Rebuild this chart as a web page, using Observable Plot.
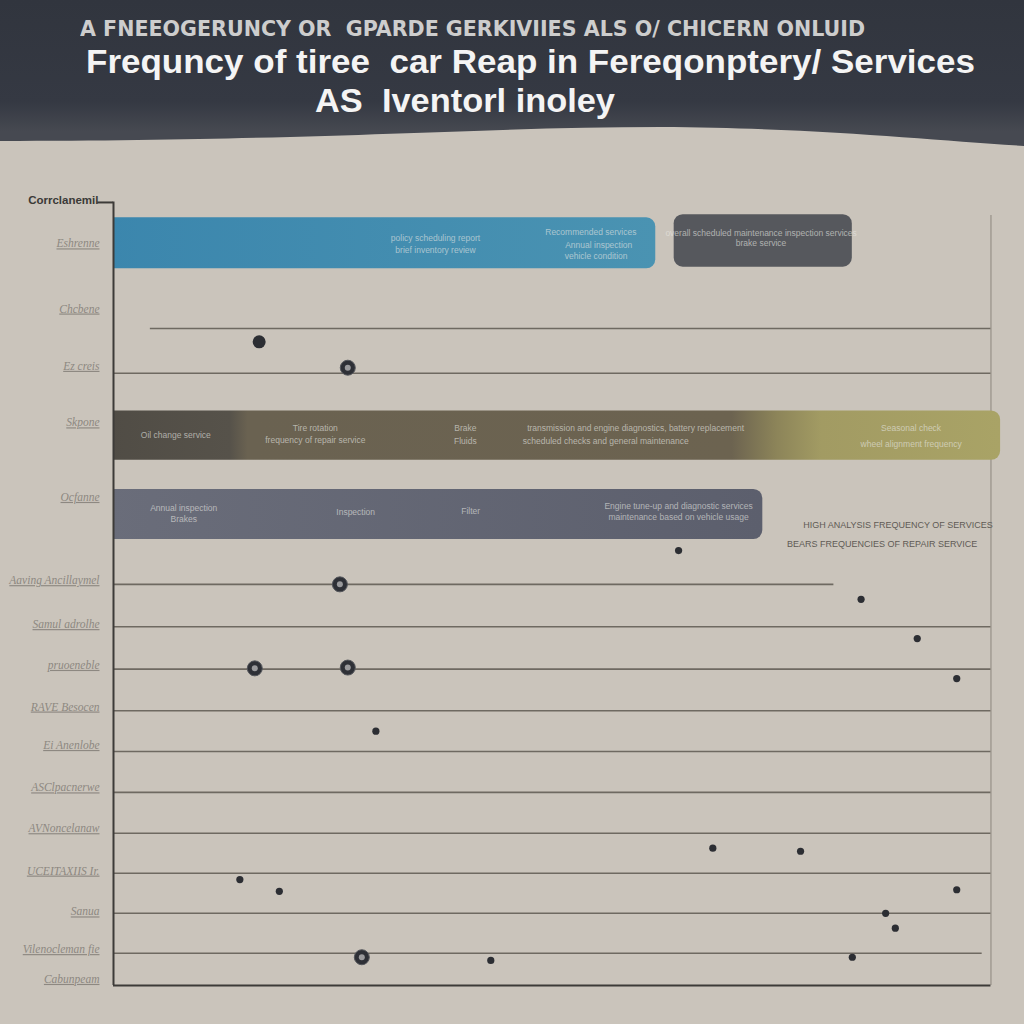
<!DOCTYPE html>
<html>
<head>
<meta charset="utf-8">
<script src="https://cdn.jsdelivr.net/npm/d3@7"></script>
<script src="https://cdn.jsdelivr.net/npm/@observablehq/plot@0.6"></script>
<style>
  html, body { margin: 0; padding: 0; width: 1024px; height: 1024px; overflow: hidden; background: #cac4bb; }
  #header { position: absolute; left: 0; top: 0; width: 1024px; height: 160px; }
  .t { position: absolute; white-space: nowrap; transform-origin: 0 0; }
  #t1 { top: 17px; left: 80px; font-size: 21px; color: #cdcdcd; font-family: "DejaVu Sans Condensed", "Liberation Sans Narrow", sans-serif; font-weight: bold; }
  #t2 { top: 42px; left: 86px; font-size: 34px; line-height: 38px; color: #f4f4f4; font-weight: bold; font-family: "Liberation Sans", Arial, sans-serif; }
  #t3 { top: 81px; left: 315px; font-size: 34px; line-height: 38px; color: #f4f4f4; font-weight: bold; font-family: "Liberation Sans", Arial, sans-serif; }
  #chart { position: absolute; left: 0; top: 0; }
  #chart g[aria-label="y-axis tick label"] text { text-decoration: underline; font-style: italic; }
</style>
</head>
<body>
<div id="header">
  <svg width="1024" height="160">
    <defs>
      <linearGradient id="hdr" x1="0" y1="0" x2="0" y2="1">
        <stop offset="0" stop-color="#31353e"/>
        <stop offset="0.7" stop-color="#353943"/>
        <stop offset="0.9" stop-color="#464951"/>
      </linearGradient>
    </defs>
    <path d="M0,0 H1024 V146 C930,140 820,128 660,127 C480,127 320,141 0,141 Z" fill="url(#hdr)"/>
  </svg>
</div>
<div class="t" id="t1" data-w="785">A FNEEOGERUNCY OR&nbsp; GPARDE GERKIVIIES ALS O/ CHICERN ONLUID</div>
<div class="t" id="t2" data-w="889">Frequncy of tiree&nbsp; car Reap in Fereqonptery/ Services</div>
<div class="t" id="t3" data-w="300">AS&nbsp; Iventorl inoley</div>
<div id="chart"></div>
<script>
// ---- data ----
const rowLabels = ["Eshrenne", "Chcbene", "Ez creis", "Skpone", "Ocfanne", "Aaving Ancillaymel", "Samul adrolhe", "pruoeneble", "RAVE Besocen", "Ei Anenlobe", "ASClpacnerwe", "AVNoncelanaw", "UCEITAXIIS Ir.", "Sanua", "Vilenocleman fie", "Cabunpeam"];
const rowPos = [5.5, 13.8, 21.1, 28.3, 37.8, 48.4, 54.0, 59.2, 64.5, 69.4, 74.8, 80.0, 85.4, 90.6, 95.4, 99.2];
const axisTitle = "Corrclanemil";

const barName = ["blue", "darkgrey", "olive", "greyblue"];
const barStart = [-1, 63.9, -1, -1];
const barEnd = [61.8, 84.2, 101.1, 74.0];
const barTop = [2.2, 1.8, 26.8, 36.8];
const barBottom = [8.7, 8.5, 33.1, 43.2];

const gridY = [16.3, 22.0, 48.9, 54.3, 59.7, 65.0, 70.2, 75.4, 80.6, 85.7, 90.8, 95.9];
const gridStart = [4.2, 0, 0, 0, 0, 0, 0, 0, 0, 0, 0, 0];
const gridEnd = [100, 100, 82.1, 100, 100, 100, 100, 100, 100, 100, 100, 99];

const noteText = ["policy scheduling report", "brief inventory review", "Recommended services", "Annual inspection", "vehicle condition",
  "overall scheduled maintenance inspection services", "brake service",
  "Oil change service", "Tire rotation", "frequency of repair service", "Brake", "Fluids",
  "transmission and engine diagnostics, battery replacement", "scheduled checks and general maintenance",
  "Seasonal check", "wheel alignment frequency",
  "Annual inspection", "Brakes", "Inspection", "Filter",
  "Engine tune-up and diagnostic services", "maintenance based on vehicle usage"];
const noteX = [36.7, 36.7, 54.4, 55.3, 55.0, 73.8, 73.8, 7.1, 23.0, 23.0, 40.1, 40.1, 59.5, 56.1, 90.9, 90.9, 8.0, 8.0, 27.6, 40.7, 64.4, 64.4];
const noteY = [4.8, 6.4, 4.1, 5.7, 7.1, 4.2, 5.5, 29.9, 29.0, 30.6, 29.0, 30.7, 29.0, 30.7, 29.0, 31.1, 39.2, 40.6, 39.7, 39.6, 38.9, 40.4];

const sideText = ["HIGH ANALYSIS FREQUENCY OF SERVICES", "BEARS FREQUENCIES OF REPAIR SERVICE"];
const sideX = [89.4, 87.6];
const sideY = [41.3, 43.8];

const dotKind = ["ring", "ring", "ring", "ring", "ring", "solid",
  "small", "small", "small", "small", "small", "small", "small", "small", "small", "small", "small", "small", "small", "small"];
const dotX = [26.7, 25.8, 16.1, 26.7, 28.3, 16.6,
  85.2, 91.6, 96.1, 29.9, 68.3, 78.3, 18.9, 14.4, 96.1, 88.0, 89.1, 84.2, 64.4, 43.0];
const dotY = [21.3, 48.9, 59.6, 59.5, 96.4, 18.0,
  50.8, 55.8, 60.9, 67.6, 82.5, 82.9, 88.0, 86.5, 87.8, 90.8, 92.7, 96.4, 44.6, 96.8];

// ---- tables ----
const bars = barName.map((n, i) => ({name: n, x1: barStart[i], x2: barEnd[i], y1: barTop[i], y2: barBottom[i]}));
const grid = gridY.map((y, i) => ({y, x1: gridStart[i], x2: gridEnd[i]}));
const notes = noteText.map((t, i) => ({t, x: noteX[i], y: noteY[i]}));
const sides = sideText.map((t, i) => ({t, x: sideX[i], y: sideY[i]}));
const dots = dotKind.map((k, i) => ({k, x: dotX[i], y: dotY[i]}));
const labelAt = new Map(rowPos.map((p, i) => [p, rowLabels[i]]));
const fills = {blue: "url(#gBlue)", darkgrey: "#56585d", olive: "url(#gOlive)", greyblue: "url(#gGreyBlue)"};

const chart = Plot.plot({
  width: 1024,
  height: 1024,
  marginTop: 200,
  marginBottom: 39,
  marginLeft: 113,
  marginRight: 16,
  x: {domain: [0, 102], axis: null},
  y: {domain: [0, 100], reverse: true, axis: null},
  style: {background: "transparent", fontFamily: "Liberation Serif, serif"},
  marks: [
    Plot.ruleX([100], {y1: 1.9, y2: 100, stroke: "#a19b93", strokeWidth: 1.5}),
    Plot.ruleY(grid, {y: "y", x1: "x1", x2: "x2", stroke: "#6e6961", strokeWidth: 1.6}),
    Plot.rect(bars, {x1: "x1", x2: "x2", y1: "y1", y2: "y2", fill: d => fills[d.name], rx: 9, clip: true}),
    Plot.text(notes, {x: "x", y: "y", text: "t", fill: "rgba(232,232,228,0.62)", fontSize: 8.5, fontFamily: "Liberation Sans Narrow, Liberation Sans, sans-serif"}),
    Plot.text(sides, {x: "x", y: "y", text: "t", fill: "#5f5b55", fontSize: 9, fontFamily: "Liberation Sans Narrow, Liberation Sans, sans-serif", textDecoration: "underline"}),
    Plot.dot(dots.filter(d => d.k === "ring"), {x: "x", y: "y", r: 7.5, fill: "#2e3036", stroke: "#55575c", strokeWidth: 1}),
    Plot.dot(dots.filter(d => d.k === "ring"), {x: "x", y: "y", r: 3, fill: "#9a9a9c"}),
    Plot.dot(dots.filter(d => d.k === "solid"), {x: "x", y: "y", r: 6.5, fill: "#2c2e33"}),
    Plot.dot(dots.filter(d => d.k === "small"), {x: "x", y: "y", r: 3.6, fill: "#2c2e33"}),
    Plot.ruleX([0], {y1: 0.2, y2: 100, stroke: "#3d3b38", strokeWidth: 2}),
    Plot.ruleY([100], {x1: 0, x2: 100, stroke: "#3d3b38", strokeWidth: 2}),
    Plot.ruleY([0.25], {x1: -1.8, x2: 0, stroke: "#3d3b38", strokeWidth: 2}),
    Plot.text([axisTitle], {x: 0, y: 0, dx: -15, textAnchor: "end", fill: "#3b3a37", fontSize: 11.5, fontWeight: "bold", fontFamily: "Liberation Sans Narrow, Liberation Sans, sans-serif"}),
    Plot.axisY({ticks: rowPos, tickFormat: v => labelAt.get(v), tickSize: 0, tickPadding: 14, fontSize: 11.5, color: "#8d8881"})
  ]
});

chart.insertAdjacentHTML("afterbegin", `<defs>
  <linearGradient id="gBlue" x1="0" x2="1" y1="0" y2="0">
    <stop offset="0" stop-color="#3b86ad"/><stop offset="1" stop-color="#4a93b2"/>
  </linearGradient>
  <linearGradient id="gOlive" x1="0" x2="1" y1="0" y2="0">
    <stop offset="0" stop-color="#504c45"/><stop offset="0.14" stop-color="#56524a"/>
    <stop offset="0.16" stop-color="#6a6251"/><stop offset="0.70" stop-color="#6c6350"/>
    <stop offset="0.75" stop-color="#8c8459"/><stop offset="0.80" stop-color="#a29b63"/>
    <stop offset="1" stop-color="#a9a366"/>
  </linearGradient>
  <linearGradient id="gGreyBlue" x1="0" x2="1" y1="0" y2="0">
    <stop offset="0" stop-color="#6a6d7a"/><stop offset="1" stop-color="#5c5f6d"/>
  </linearGradient>
</defs>`);
document.getElementById("chart").appendChild(chart);

// fit the title lines to the widths they have in the reference
document.querySelectorAll(".t").forEach(el => {
  const w = el.getBoundingClientRect().width;
  const target = +el.dataset.w;
  el.style.transform = `scaleX(${target / w})`;
});
</script>
</body>
</html>
